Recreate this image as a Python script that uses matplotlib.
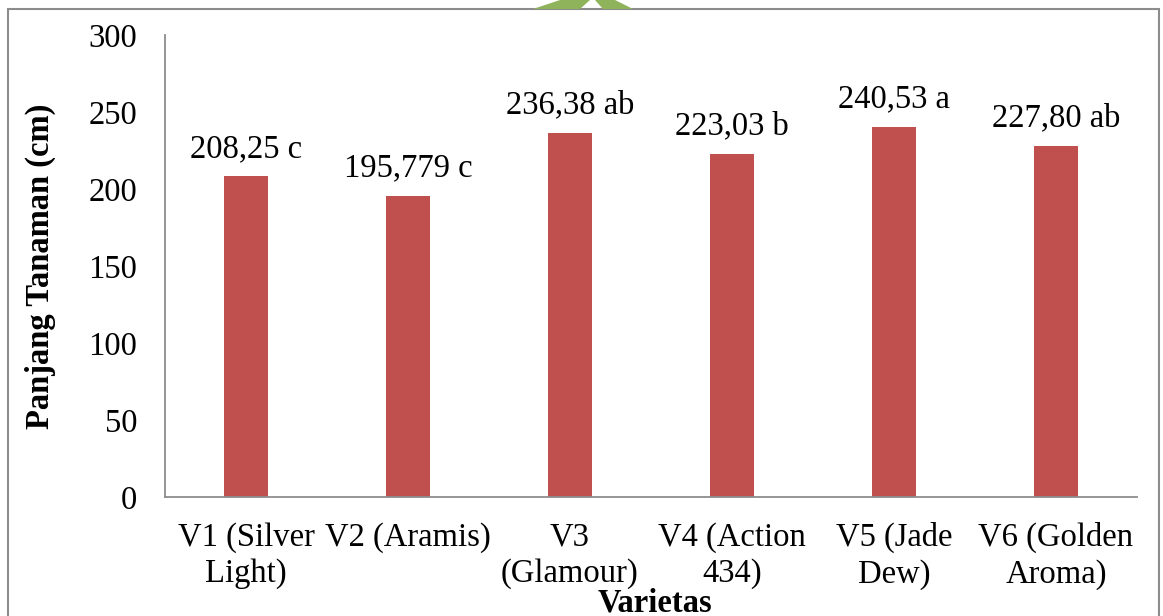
import matplotlib
matplotlib.use("Agg")
import matplotlib.pyplot as plt
from matplotlib.patches import Rectangle, Polygon

categories = ["V1 (Silver\nLight)", "V2 (Aramis)", "V3\n(Glamour)", "V4 (Action\n434)", "V5 (Jade\nDew)", "V6 (Golden\nAroma)"]
values = [208.25, 195.779, 236.38, 223.03, 240.53, 227.80]
labels = ["208,25 c", "195,779 c", "236,38 ab", "223,03 b", "240,53 a", "227,80 ab"]
yticks = [0, 50, 100, 150, 200, 250, 300]

plt.rcParams['font.family'] = ['Liberation Serif', 'DejaVu Serif']
FS = 23.5

W, H = 1163, 616
fig = plt.figure(figsize=(W/100, H/100), dpi=100)
ax = fig.add_axes([165/W, 1-497/H, (1137-165)/W, (497-35)/H])

x = list(range(len(categories)))
bars = ax.bar(x, values, width=0.27, color="#C0504D", zorder=2)
for xi, v, lab in zip(x, values, labels):
    ax.annotate(lab, (xi, v), xytext=(0, 9), textcoords="offset points",
                ha="center", va="bottom", fontsize=FS)

ax.set_xlim(-0.5, len(categories)-0.5)
ax.set_ylim(0, 300)
ax.set_yticks(yticks)
ax.set_yticklabels([str(t) for t in yticks], fontsize=FS)
ax.set_xticks(x)
ax.set_xticklabels(categories, fontsize=FS, linespacing=1.25)
ax.tick_params(axis="y", length=0, pad=20)
ax.tick_params(axis="x", length=0, pad=18)
for s in ["top", "right"]:
    ax.spines[s].set_visible(False)
for s in ["left", "bottom"]:
    ax.spines[s].set_color("#8c8c8c")
    ax.spines[s].set_linewidth(1.3)

fig.text(655/W, 1-603/H, "Varietas", ha="center", va="center", fontsize=FS, fontweight="bold")
fig.text(40/W, 1-266/H, "Panjang Tanaman (cm)", ha="center", va="center", rotation=90,
         fontsize=FS, fontweight="bold")

# outer border
fig.patches.append(Rectangle((8/W, -0.05), (1159-8)/W, 1-9/H+0.05, transform=fig.transFigure,
                             fill=False, edgecolor="#8c8c8c", linewidth=1.5))
# faint watermark at the top
for pts in [[(533, 9), (580, 9), (590, 0), (560, 0)], [(603, 9), (633, 9), (615, 0), (595, 0)]]:
    fig.patches.append(Polygon([(px/W, 1-py/H) for px, py in pts], closed=True,
                               transform=fig.transFigure, facecolor="#8fb35a", edgecolor="none"))

fig.savefig("out.png", dpi=100)
